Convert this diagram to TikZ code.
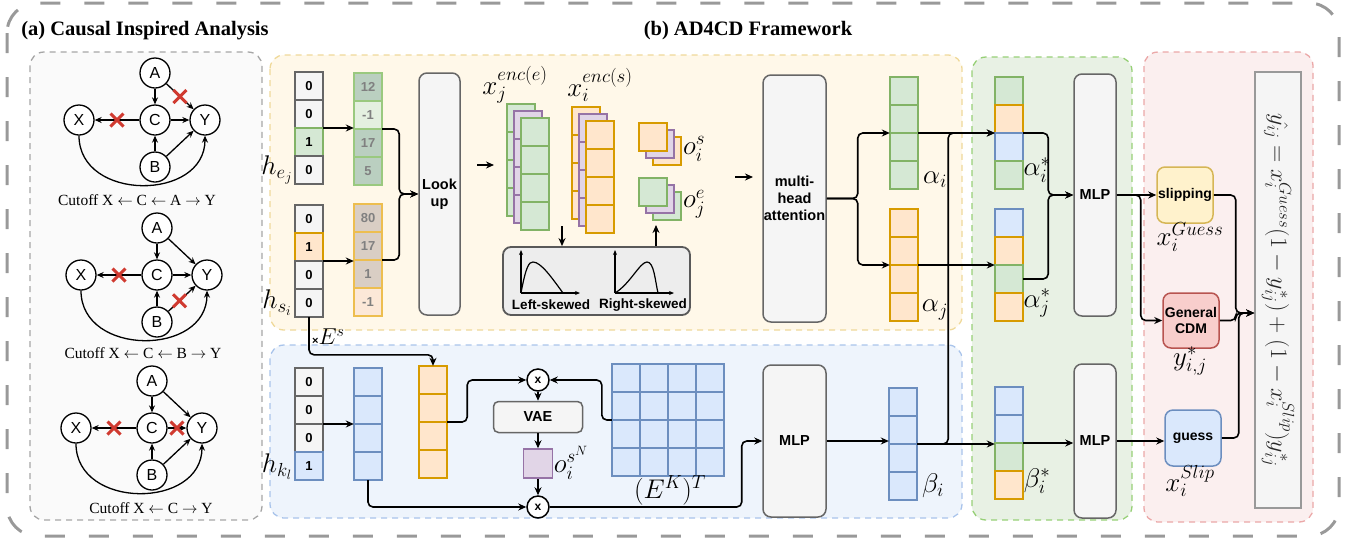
\RequirePackage{fix-cm}
\documentclass[tikz,border=0pt]{standalone}
\usepackage{fontspec}
\setmainfont{Liberation Serif}
\setsansfont{Liberation Sans}
\usepackage{tikz}
\usetikzlibrary{arrows.meta, calc, positioning, shapes.misc}

\definecolor{gfill}{HTML}{D5E8D4}
\definecolor{gline}{HTML}{82B366}
\definecolor{ofill}{HTML}{FFE6CC}
\definecolor{oline}{HTML}{D79B00}
\definecolor{bfill}{HTML}{DAE8FC}
\definecolor{bline}{HTML}{6C8EBF}
\definecolor{pfill}{HTML}{E1D5E7}
\definecolor{pline}{HTML}{9673A6}
\definecolor{kfill}{HTML}{F5F5F5}
\definecolor{kline}{HTML}{666666}
\definecolor{yfill}{HTML}{FFF2CC}
\definecolor{yline}{HTML}{D6B656}
\definecolor{rfill}{HTML}{F8CECC}
\definecolor{rline}{HTML}{B85450}
\definecolor{eg1}{HTML}{BACFC0}
\definecolor{eg2}{HTML}{E4F0E0}
\definecolor{egl}{HTML}{9AC97F}
\definecolor{es1}{HTML}{D9CEC4}
\definecolor{es2}{HTML}{FCE8D8}
\definecolor{esl}{HTML}{EDBE4F}
\definecolor{xred}{HTML}{D03A30}
\definecolor{yregl}{HTML}{EFD99A}
\definecolor{yregf}{HTML}{FFF8E9}
\definecolor{bregl}{HTML}{A9C4EB}
\definecolor{bregf}{HTML}{EEF4FC}
\definecolor{gregl}{HTML}{97D077}
\definecolor{gregf}{HTML}{E8F1E4}
\definecolor{rregl}{HTML}{EBA8A8}
\definecolor{rregf}{HTML}{FBEFEF}

\tikzset{
  >={Stealth[length=8pt,width=7pt]},
  conn/.style={->, line width=1.6pt, rounded corners=5pt},
  cell/.style={draw, line width=1.5pt, minimum width=28pt, minimum height=28pt, inner sep=0pt,
    font=\sffamily\bfseries\fontsize{13}{13}\selectfont},
  embtxt/.style={text=black!50, line width=2.5pt},
  box/.style={draw=kline, fill=kfill, line width=1.5pt, rounded corners=8pt, inner sep=0pt,
    align=center, font=\sffamily\bfseries\fontsize{14.5}{17}\selectfont},
  lbl/.style={inner sep=0pt, font=\fontsize{27}{30}\selectfont},
  title/.style={inner sep=0pt, font=\bfseries\fontsize{20.5}{24}\selectfont},
  captxt/.style={inner sep=0pt, font=\fontsize{15.5}{18}\selectfont},
  gnode/.style={circle, draw, line width=1.3pt, fill=white, minimum size=30pt, inner sep=0pt,
    font=\sffamily\fontsize{16}{16}\selectfont},
  garrow/.style={-{Stealth[length=7pt,width=6pt]}, line width=1.3pt},
  xmark/.style={cross out, draw=xred, line width=3pt, minimum size=10pt, inner sep=0pt},
  mult/.style={circle, draw, line width=1.5pt, fill=white, minimum size=22pt, inner sep=0pt,
    font=\sffamily\bfseries\fontsize{12}{12}\selectfont},
  outer/.style={draw=black!40, line width=3pt, dash pattern=on 20pt off 24pt, rounded corners=30pt},
  region/.style={line width=1.3pt, dash pattern=on 6pt off 5pt, rounded corners=14pt},
  areg/.style={region, draw=black!35, fill=black!2},
  yreg/.style={region, draw=yregl, fill=yregf},
  breg/.style={region, draw=bregl, fill=bregf},
  greg/.style={region, draw=gregl, fill=gregf},
  rreg/.style={region, draw=rregl, fill=rregf},
}

% column of four cells, top-left corner at (#3,#4)
\newcommand{\vcol}[5][]{%
  \node[inner sep=0pt, minimum width=28pt, minimum height=112pt] (#2) at (#3+14,#4+56) {};
  \foreach \fc/\dc/\tx [count=\k] in {#5}
    \node[cell, #1, fill=\fc, draw=\dc] (#2-\k) at (#3+14,#4+28*\k-14) {\tx};
}

% causal graph around C at (#2,#3)
\newcommand{\cgraph}[3]{%
  \node[gnode] (#1C) at (#2,#3) {C};
  \node[gnode] (#1A) at (#2,#3-47) {A};
  \node[gnode] (#1B) at (#2,#3+47) {B};
  \node[gnode] (#1X) at (#2-76,#3) {X};
  \node[gnode] (#1Y) at (#2+50,#3) {Y};
  \draw
  (#1A) edge[garrow] (#1C)
  (#1A) edge[garrow] (#1Y)
  (#1B) edge[garrow] (#1C)
  (#1B) edge[garrow] (#1Y)
  (#1C) edge[garrow] (#1Y)
  (#1C) edge[garrow] (#1X);
  \draw[garrow] (#1X.south) .. controls +(0,66) and +(0,66) .. (#1Y.south);
}

\begin{document}
\begin{tikzpicture}[x=1pt, y=-1pt]
\useasboundingbox (0,0) rectangle (1348,539);

% frames
\draw[outer] (7,3) rectangle (1339,536);
\node[title] (ta) at (145,31) {(a) Causal Inspired Analysis};
\node[title] (tb) at (748,31) {(b) AD4CD Framework};
\draw[areg] (30,52) rectangle (262,520);
\draw[yreg] (270,55) rectangle (962,330);
\draw[breg] (270,345) rectangle (962,518);
\draw[greg] (972,57) rectangle (1132,520);
\draw[rreg] (1144,52) rectangle (1313,522);

% (a) causal graphs
\cgraph{g1}{155}{120}
\cgraph{g2}{157}{275}
\cgraph{g3}{152}{428}
\node[xmark] (k1a) at ($(g1C)!0.5!(g1X)$) {};
\node[xmark] (k1b) at ($(g1A)!0.5!(g1Y)$) {};
\node[xmark] (k2a) at ($(g2C)!0.5!(g2X)$) {};
\node[xmark] (k2b) at ($(g2B)!0.45!(g2Y)$) {};
\node[xmark] (k3a) at ($(g3C)!0.5!(g3X)$) {};
\node[xmark] (k3b) at ($(g3C)!0.5!(g3Y)$) {};
\node[captxt] (cap1) at (137,200) {Cutoff X $\leftarrow$ C $\leftarrow$ A $\rightarrow$ Y};
\node[captxt] (cap2) at (143,353) {Cutoff X $\leftarrow$ C $\leftarrow$ B $\rightarrow$ Y};
\node[captxt] (cap3) at (151,508) {Cutoff X $\leftarrow$ C $\rightarrow$ Y};

% (b) embedding part
\vcol{hej}{295}{72}{kfill/kline/0, kfill/kline/0, gfill/gline/1, kfill/kline/0}
\vcol{hsi}{295}{205}{kfill/kline/0, ofill/oline/1, kfill/kline/0, kfill/kline/0}
\node[lbl] (lhej) at (277,170) {$h_{e_j}$};
\node[lbl] (lhsi) at (277,303) {$h_{s_i}$};
\vcol[embtxt]{embe}{354}{73}{eg1/egl/12, eg2/egl/-1, eg1/egl/17, eg1/egl/5}
\vcol[embtxt]{embs}{354}{204}{es1/esl/80, es1/esl/17, es1/esl/1, es2/esl/-1}
\node[box, minimum width=41pt, minimum height=242pt] (lookup) at (439.5,194) {Look\\up};

% encoded stacks
\vcol{xeb}{507}{104}{gfill/gline/{}, gfill/gline/{}, gfill/gline/{}, gfill/gline/{}}
\vcol{xem}{514}{111}{pfill/pline/{}, pfill/pline/{}, pfill/pline/{}, pfill/pline/{}}
\vcol{xef}{521}{118}{gfill/gline/{}, gfill/gline/{}, gfill/gline/{}, gfill/gline/{}}
\vcol{xsb}{572}{107}{ofill/oline/{}, ofill/oline/{}, ofill/oline/{}, ofill/oline/{}}
\vcol{xsm}{579}{114}{pfill/pline/{}, pfill/pline/{}, pfill/pline/{}, pfill/pline/{}}
\vcol{xsf}{586}{121}{ofill/oline/{}, ofill/oline/{}, ofill/oline/{}, ofill/oline/{}}
\node[lbl] (lxe) at (515,85) {$x_j^{enc(e)}$};
\node[lbl] (lxs) at (600,85) {$x_i^{enc(s)}$};

\node[cell, fill=ofill, draw=oline] (osb) at (667,151) {};
\node[cell, fill=pfill, draw=pline] (osm) at (660,144) {};
\node[cell, fill=ofill, draw=oline] (os) at (653,137) {};
\node[cell, fill=gfill, draw=gline] (oeb) at (667,206) {};
\node[cell, fill=pfill, draw=pline] (oem) at (660,199) {};
\node[cell, fill=gfill, draw=gline] (oe) at (653,192) {};
\node[lbl] (los) at (694,149) {$o_i^s$};
\node[lbl] (loe) at (694,204) {$o_j^e$};

% skewness box
\node[box, fill=black!7, draw=black!65, line width=1.8pt, minimum width=187pt, minimum height=68pt] (dist) at (596.5,281) {};
\draw[-{Stealth[length=5pt,width=4pt]}, line width=1.2pt] (521,293) -- (521,250);
\draw[-{Stealth[length=5pt,width=4pt]}, line width=1.2pt] (521,293) -- (580,293);
\draw[line width=1.2pt] (521,293) .. controls (526,266) and (529,262) .. (533,262) .. controls (541,262) and (552,278) .. (563,293);
\draw[-{Stealth[length=5pt,width=4pt]}, line width=1.2pt] (615,293) -- (615,250);
\draw[-{Stealth[length=5pt,width=4pt]}, line width=1.2pt] (615,293) -- (674,293);
\draw[line width=1.2pt] (615,293) .. controls (630,284) and (640,262) .. (647,262) .. controls (654,262) and (655,280) .. (658,293);
\node[inner sep=0pt, font=\sffamily\bfseries\fontsize{13.5}{14}\selectfont] (lls) at (551,305) {Left-skewed};
\node[inner sep=0pt, font=\sffamily\bfseries\fontsize{13.5}{14}\selectfont] (lrs) at (643,305) {Right-skewed};

\node[box, minimum width=63pt, minimum height=247pt] (att) at (794.5,198.5) {multi-\\head\\attention};
\vcol{ai}{890}{77}{gfill/gline/{}, gfill/gline/{}, gfill/gline/{}, gfill/gline/{}}
\vcol{aj}{890}{209}{ofill/oline/{}, ofill/oline/{}, ofill/oline/{}, ofill/oline/{}}
\node[lbl] (lai) at (935,180) {$\alpha_i$};
\node[lbl] (laj) at (935,310) {$\alpha_j$};

% knowledge part
\vcol{hkl}{295}{368}{kfill/kline/0, kfill/kline/0, kfill/kline/0, bfill/bline/1}
\node[lbl] (lhkl) at (277,467) {$h_{k_l}$};
\vcol{ek}{354}{368}{bfill/bline/{}, bfill/bline/{}, bfill/bline/{}, bfill/bline/{}}
\vcol{es}{419}{366}{ofill/oline/{}, ofill/oline/{}, ofill/oline/{}, ofill/oline/{}}
\node[inner sep=0pt, anchor=west] (les) at (312,337) {{\sffamily\bfseries\fontsize{11}{11}\selectfont ×}\fontsize{23}{24}\selectfont$E^s$};
\node[mult] (m1) at (538,380) {x};
\node[box, rounded corners=5pt, minimum width=89pt, minimum height=31pt] (vae) at (538,417) {VAE};
\node[cell, fill=pfill, draw=pline, minimum size=29pt] (on) at (538,463.5) {};
\node[lbl] (lon) at (571,463) {$o_i^{s^N}$};
\node[mult] (m2) at (538,507) {x};
\foreach \row in {1,...,4}
  \foreach \col in {1,...,4}
    \node[cell, fill=bfill, draw=bline] (ekt-\row\col) at (598+28*\col,350+28*\row) {};
\node[inner sep=0pt, minimum size=112pt] (ekt) at (668,420) {};
\node[lbl] (lekt) at (670,490) {$(E^K)^T$};
\node[box, minimum width=63pt, minimum height=152pt] (mlp0) at (794.5,441) {MLP};
\vcol{bi}{889}{388}{bfill/bline/{}, bfill/bline/{}, bfill/bline/{}, bfill/bline/{}}
\node[lbl] (lbi) at (933,486) {$\beta_i$};

% fusion part
\vcol{ais}{995}{77}{gfill/gline/{}, ofill/oline/{}, bfill/bline/{}, gfill/gline/{}}
\vcol{ajs}{995}{209}{bfill/bline/{}, ofill/oline/{}, gfill/gline/{}, ofill/oline/{}}
\vcol{bis}{995}{387}{bfill/bline/{}, bfill/bline/{}, gfill/gline/{}, ofill/oline/{}}
\node[lbl] (lais) at (1037,170) {$\alpha_i^*$};
\node[lbl] (lajs) at (1037,303) {$\alpha_j^*$};
\node[lbl] (lbis) at (1037,481) {$\beta_i^*$};
\node[box, minimum width=42pt, minimum height=242pt] (mlp1) at (1095,195) {MLP};
\node[box, minimum width=42pt, minimum height=154pt] (mlp2) at (1095,441) {MLP};

% prediction part
\node[box, fill=yfill, draw=yline, minimum width=56pt, minimum height=56pt, font=\sffamily\bfseries\fontsize{14}{16}\selectfont] (slip) at (1185,195) {slipping};
\node[box, fill=rfill, draw=rline, minimum width=56pt, minimum height=55pt, font=\sffamily\bfseries\fontsize{14}{16}\selectfont] (cdm) at (1191,320.5) {General\\CDM};
\node[box, fill=bfill, draw=bline, minimum width=56pt, minimum height=56pt, font=\sffamily\bfseries\fontsize{14}{16}\selectfont] (guess) at (1193,438) {guess};
\node[lbl] (lslip) at (1190,237) {$x_i^{Guess}$};
\node[lbl] (lcdm) at (1190,361) {$y^*_{i,j}$};
\node[lbl] (lguess) at (1190,481) {$x_i^{Slip}$};
\node[draw=black!40, fill=kfill, line width=1.5pt, minimum width=46pt, minimum height=436pt, inner sep=0pt] (fml) at (1278,290) {};
\node[rotate=-90, inner sep=0pt, text=black!85, font=\fontsize{24}{28}\selectfont] (ftxt) at (fml.center) {$\hat{y_{ij}}=x_i^{Guess}(1-y_{ij}^*)+(1-x_i^{Slip})y_{ij}^*$};
\coordinate (fin) at ($(fml.west)+(0,23)$);

% connectors
\draw[conn] (hej.east) -- (hej.east -| embe.west);
\draw[conn] (hsi.east) -- (hsi.east -| embs.west);
\draw[conn] (embe.east) -- ++(17,0) |- (lookup.west);
\draw[conn] (embs.east) -- ++(17,0) |- (lookup.west);
\coordinate (s1) at (477,165);
\coordinate (e1) at (494,165);
\draw[conn] (s1) -- (e1);
\coordinate (dd) at (562,226);
\draw[conn] (dd) -- (dd |- dist.north);
\coordinate (du) at (656,225);
\draw[conn] (du |- dist.north) -- (du);
\coordinate (s2) at (735,177);
\coordinate (e2) at (753,177);
\draw[conn] (s2) -- (e2);
\draw[conn] (att.east) -- ++(31,0) |- (ai.west);
\draw[conn] (att.east) -- ++(31,0) |- (aj.west);

\draw[conn] (hkl.east) -- (ek.west);
\draw[conn] (hsi.south) |- ($(es.north)+(0,-11)$) -- (es.north);
\draw[conn] (es.east) -- ++(20,0) |- (m1.west);
\draw[conn] (ekt.west) -- ++(-10,0) |- (m1.east);
\draw[conn] (m1) -- (vae);
\draw[conn] (vae) -- (on);
\draw[conn] (on) -- (m2);
\draw[conn] (ek.south) |- (m2.west);
\draw[conn] (m2.east) -- ++(192,0) |- (mlp0.west);
\draw[conn] (mlp0.east) -- (mlp0.east -| bi.west);

\draw[conn] (ai.east) -- (ais.west);
\draw[conn] (aj.east) -- (ajs.west);
\draw[conn] (bi.east) -- (bi.east -| bis.west);
\draw[conn] (bi.east) -- ++(31,0) |- (ais.west);
\draw[conn] (ais.east) -- ++(25,0) |- (mlp1.west);
\draw[conn] ($(ajs.east)+(0,14)$) -- ++(25,0) |- (mlp1.west);
\draw[conn] (bis.east) -- (bis.east -| mlp2.west);

\draw[conn] (mlp1.east) -- (slip.west);
\draw[conn] (mlp1.east) -- ++(24,0) |- (cdm.west);
\draw[conn] (mlp2.east) -- (mlp2.east -| guess.west);
\draw[conn] (slip.east) -- ++(22,0) |- (fin);
\draw[conn] (cdm.east) -- ++(16,0) |- (fin);
\draw[conn] (guess.east) -- ++(17,0) |- (fin);
\end{tikzpicture}
\end{document}
